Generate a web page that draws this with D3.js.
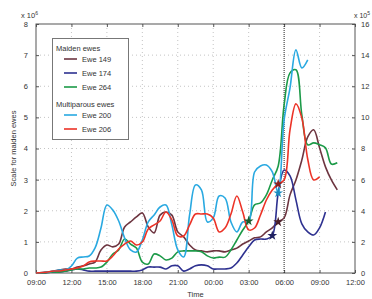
<!DOCTYPE html>
<html>
<head>
<meta charset="utf-8">
<script src="https://cdn.jsdelivr.net/npm/d3@7"></script>
<style>
  body { margin: 0; background: #fff; }
  svg { display: block; font-family: "Liberation Sans", Arial, sans-serif; }
</style>
</head>
<body>
<svg id="chart" width="372" height="299"></svg>
<script>
// hours after 09:00 on the first day, sampled every half hour
const hours = d3.range(0, 26, 0.5);
const xTickHours = [0, 3, 6, 9, 12, 15, 18, 21, 24, 27];
const xTickLabels = ['09:00', '12:00', '15:00', '18:00', '21:00', '00:00', '03:00', '06:00', '09:00', '12:00'];
const leftTicks = [0, 1, 2, 3, 4, 5, 6, 7, 8];
const rightTicks = [0, 2, 4, 6, 8, 10, 12, 14, 16];
const partusHour = 21; // dotted line at 06:00

// maiden ewes, left axis (x 10^6)
const ewe149 = [0, 0, 0.03, 0.06, 0.1, 0.13, 0.13, 0.19, 0.23, 0.29, 0.35, 0.74, 0.9, 0.84, 0.93, 1.48, 1.64, 1.8, 1.93, 1.48,
  1.29, 1.86, 1.96, 1.86, 1.32, 1.16, 0.9, 0.74, 0.71, 0.68, 0.71, 0.71, 0.68, 0.74, 0.8, 0.93, 1.03, 1.13, 1.16, 1.32,
  1.45, 1.64, 1.77, 2.51, 2.99, 3.63, 4.37, 4.6, 4.02, 3.41, 2.99, 2.67];
const ewe174 = [0, 0, 0.02, 0.03, 0.03, 0.06, 0.1, 0.13, 0.1, 0.06, 0.06, 0.06, 0.06, 0.06, 0.06, 0.06, 0.06, 0.06, 0.1, 0.19,
  0.19, 0.19, 0.13, 0.23, 0.23, 0.06, 0.13, 0.23, 0.26, 0.23, 0.13, 0.13, 0.13, 0.16, 0.32, 0.58, 0.84, 1.06, 1.09, 1.09,
  1.2, 2.57, 3.31, 3.12, 2.35, 1.58, 1.32, 1.22, 1.45, 1.96];
const ewe264 = [0, 0, 0.02, 0.03, 0.03, 0.06, 0.1, 0.13, 0.13, 0.16, 0.16, 0.19, 0.35, 0.61, 0.74, 1.09, 0.93, 0.8, 0.35, 0.29,
  0.61, 0.55, 0.42, 0.48, 0.68, 0.71, 0.71, 0.71, 0.68, 0.55, 0.48, 0.51, 0.51, 0.74, 1.06, 1.38, 1.67, 2.19, 2.25, 2.51,
  2.99, 3.44, 5.4, 6.43, 6.53, 5.08, 4.12, 4.18, 4.12, 4.02, 3.5, 3.54];
// multiparous ewes, right axis
const ewe200 = [0, 0.03, 0.06, 0.13, 0.19, 0.19, 0.45, 0.96, 1.03, 1.09, 1.61, 2.89, 4.37, 4.05, 3.34, 2.25, 1.48, 1.35, 2.12, 3.28,
  3.73, 4.24, 4.37, 3.09, 1.48, 1.03, 3.73, 5.66, 5.34, 3.28, 3.54, 4.95, 4.82, 3.28, 2.64, 3.28, 3.28, 6.49, 6.88, 6.94,
  6.49, 5.14, 9.84, 11.9, 14.34, 13.18, 13.7];
const ewe206 = [0, 0.03, 0.06, 0.13, 0.13, 0.19, 0.26, 0.32, 0.45, 0.71, 0.77, 0.77, 0.77, 1.09, 1.54, 1.86, 2.06, 1.8, 1.99, 2.83,
  3.09, 3.34, 3.92, 3.41, 2.38, 2.38, 3.09, 3.79, 3.79, 3.79, 3.54, 2.64, 2.89, 3.79, 4.95, 3.92, 2.77, 2.89, 3.73, 4.69,
  5.34, 5.72, 5.98, 9.19, 10.87, 9.97, 7.31, 5.98, 6.17];

const seriesNames = ['Ewe 149', 'Ewe 174', 'Ewe 264', 'Ewe 200', 'Ewe 206'];
const seriesValues = [ewe149, ewe174, ewe264, ewe200, ewe206];
const seriesAxis = ['left', 'left', 'left', 'right', 'right'];
const seriesColors = ['#6d3540', '#2e3190', '#1c9a48', '#29a9e1', '#ec3327'];
const starColors = ['#4a1f28', '#1f2160', '#175c2c', '#1a8cc0', '#8c2020'];
const starHours = [20.5, 20, 18, 20.5, 20.5];

const svg = d3.select('#chart');
const m = { left: 36, right: 355, top: 24, bottom: 273 };

const x = d3.scaleLinear().domain([0, 27]).range([m.left, m.right]);
const yL = d3.scaleLinear().domain([0, 8]).range([m.bottom, m.top]);
const yR = d3.scaleLinear().domain([0, 16]).range([m.bottom, m.top]);
const yFor = a => (a === 'left' ? yL : yR);

// grid
svg.append('g').selectAll('line').data(xTickHours.slice(1, -1).filter(h => h !== partusHour)).join('line')
  .attr('x1', d => x(d)).attr('x2', d => x(d)).attr('y1', m.top).attr('y2', m.bottom)
  .attr('stroke', '#b5b5b5').attr('stroke-width', 0.8).attr('stroke-dasharray', '1,3');
svg.append('g').selectAll('line').data(leftTicks.slice(1, -1)).join('line')
  .attr('x1', m.left).attr('x2', m.right).attr('y1', d => yL(d)).attr('y2', d => yL(d))
  .attr('stroke', '#b5b5b5').attr('stroke-width', 0.8).attr('stroke-dasharray', '1,3');

// axes (ticks pointing inwards)
const fmtX = (d, i) => xTickLabels[i];
svg.append('g').attr('transform', `translate(0,${m.bottom})`)
  .call(d3.axisBottom(x).tickValues(xTickHours).tickFormat(fmtX).tickSizeInner(-3).tickSizeOuter(0).tickPadding(7));
svg.append('g').attr('transform', `translate(0,${m.top})`)
  .call(d3.axisTop(x).tickValues(xTickHours).tickFormat('').tickSizeInner(-3).tickSizeOuter(0));
svg.append('g').attr('transform', `translate(${m.left},0)`)
  .call(d3.axisLeft(yL).tickValues(leftTicks).tickFormat(d3.format('d')).tickSizeInner(-3).tickSizeOuter(0).tickPadding(8));
svg.append('g').attr('transform', `translate(${m.right},0)`)
  .call(d3.axisRight(yR).tickValues(rightTicks).tickFormat(d3.format('d')).tickSizeInner(-3).tickSizeOuter(0).tickPadding(6));
svg.selectAll('.domain').remove();
svg.selectAll('.tick line').attr('stroke', '#555');
svg.selectAll('.tick text').attr('fill', '#333').style('font-size', '7.5px');

// frame
svg.append('rect').attr('x', m.left).attr('y', m.top)
  .attr('width', m.right - m.left).attr('height', m.bottom - m.top)
  .attr('fill', 'none').attr('stroke', '#555').attr('stroke-width', 1);

// partus line
svg.append('line').attr('x1', x(partusHour)).attr('x2', x(partusHour)).attr('y1', m.top).attr('y2', m.bottom)
  .attr('stroke', '#222').attr('stroke-width', 1).attr('stroke-dasharray', '1,1');

// series
seriesValues.forEach((vals, i) => {
  const y = yFor(seriesAxis[i]);
  const line = d3.line().x((d, j) => x(hours[j])).y(d => y(d)).curve(d3.curveCatmullRom.alpha(0.5));
  svg.append('path').datum(vals).attr('d', line)
    .attr('fill', 'none').attr('stroke', seriesColors[i]).attr('stroke-width', 1.6)
    .attr('stroke-linejoin', 'round');
});

// star markers
seriesValues.forEach((vals, i) => {
  const j = hours.indexOf(starHours[i]);
  const y = yFor(seriesAxis[i]);
  svg.append('path').attr('d', d3.symbol(d3.symbolStar, 30)())
    .attr('transform', `translate(${x(hours[j])},${y(vals[j])})`)
    .attr('fill', starColors[i]);
});

// axis texts
svg.append('text').attr('x', 21).attr('y', 18).attr('fill', '#333').style('font-size', '7.5px')
  .text('x 10').append('tspan').attr('dy', -3).style('font-size', '5px').text('6');
svg.append('text').attr('x', 354).attr('y', 18).attr('fill', '#333').style('font-size', '7px')
  .text('x 10').append('tspan').attr('dy', -3).style('font-size', '5px').text('5');
svg.append('text').attr('transform', `translate(16,${(m.top + m.bottom) / 2}) rotate(-90)`)
  .attr('text-anchor', 'middle').attr('fill', '#333').style('font-size', '7.5px').text('Scale for maiden ewes');
svg.append('text').attr('x', (m.left + m.right) / 2).attr('y', 297).attr('text-anchor', 'middle')
  .attr('fill', '#333').style('font-size', '7.5px').text('Time');

// legend
const lg = svg.append('g');
lg.append('rect').attr('x', 52.5).attr('y', 38.5).attr('width', 76).attr('height', 101)
  .attr('fill', '#fff').attr('stroke', '#777').attr('stroke-width', 1);
const legendRows = [
  { t: 'Maiden ewes', y: 48 }, { s: 0, y: 59 }, { s: 1, y: 73 }, { s: 2, y: 87 },
  { t: 'Multiparous ewes', y: 104 }, { s: 3, y: 115 }, { s: 4, y: 129 }
];
legendRows.forEach(r => {
  if (r.t) {
    lg.append('text').attr('x', 56).attr('y', r.y + 2.7).attr('fill', '#333').style('font-size', '7.5px').text(r.t);
  } else {
    lg.append('line').attr('x1', 64).attr('x2', 77).attr('y1', r.y).attr('y2', r.y)
      .attr('stroke', seriesColors[r.s]).attr('stroke-width', 1.6);
    lg.append('text').attr('x', 82).attr('y', r.y + 2.7).attr('fill', '#333').style('font-size', '7.5px').text(seriesNames[r.s]);
  }
});
</script>
</body>
</html>
